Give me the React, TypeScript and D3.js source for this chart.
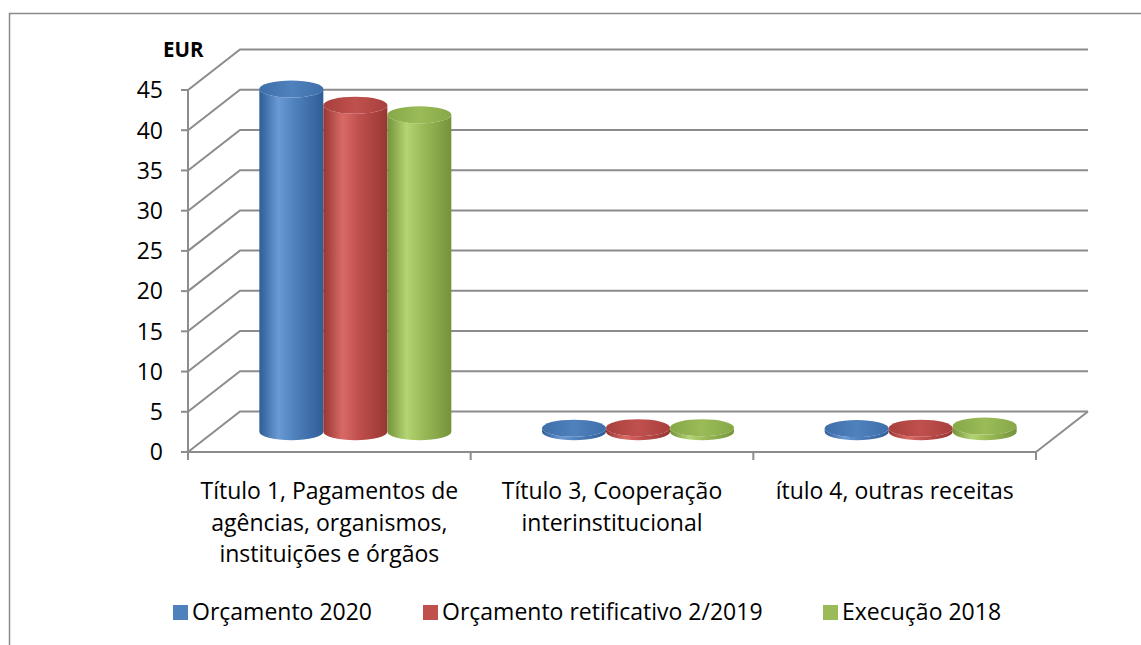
import { useEffect, useRef } from "react";
import * as d3 from "d3";

const categories = [
  ["Título 1, Pagamentos de", "agências, organismos,", "instituições e órgãos"],
  ["Título 3, Cooperação", "interinstitucional"],
  ["ítulo 4, outras receitas"],
];
const seriesNames = ["Orçamento 2020", "Orçamento retificativo 2/2019", "Execução 2018"];
const orcamento2020 = [42.6, 0.45, 0.4];
const retificativo2019 = [40.6, 0.5, 0.45];
const execucao2018 = [39.4, 0.5, 0.7];
const yTicks = [0, 5, 10, 15, 20, 25, 30, 35, 40, 45];

const colors = [
  { base: "#4f81bd", light: "#6a9ad6", dark: "#2f5d96", top: "#3e6faa" },
  { base: "#c0504d", light: "#d86a66", dark: "#983633", top: "#a8403d" },
  { base: "#9bbb59", light: "#b4d473", dark: "#74933a", top: "#86a846" },
];

const W = 1141;
const H = 645;
const FONT = "'Open Sans', sans-serif";
const FS = 23;

export default function App() {
  const svgRef = useRef<SVGSVGElement>(null);

  useEffect(() => {
    if (!svgRef.current) return;
    const svg = d3.select(svgRef.current);
    svg.selectAll("*").remove();

    const values = [orcamento2020, retificativo2019, execucao2018];
    const dx = 52;
    const dy = -40.5;
    const grid = "#8c8c8c";

    const y = d3.scaleLinear().domain([0, 45]).range([452, 90]);
    const x = d3
      .scaleBand<number>()
      .domain(categories.map((_, i) => i))
      .range([188, 1036]);

    // gradients
    const defs = svg.append("defs");
    colors.forEach((c, i) => {
      const g = defs
        .append("linearGradient")
        .attr("id", `body${i}`)
        .attr("x1", "0%")
        .attr("x2", "100%");
      g.append("stop").attr("offset", "0%").attr("stop-color", c.dark);
      g.append("stop").attr("offset", "30%").attr("stop-color", c.light);
      g.append("stop").attr("offset", "55%").attr("stop-color", c.base);
      g.append("stop").attr("offset", "100%").attr("stop-color", c.dark);
      const t = defs
        .append("linearGradient")
        .attr("id", `top${i}`)
        .attr("x1", "0%")
        .attr("x2", "100%");
      t.append("stop").attr("offset", "0%").attr("stop-color", c.top);
      t.append("stop").attr("offset", "50%").attr("stop-color", c.base);
      t.append("stop").attr("offset", "100%").attr("stop-color", c.top);
    });

    // outer border
    svg.append("path")
      .attr("d", `M9.5,${H} L9.5,13.5 L${W},13.5`)
      .attr("fill", "none")
      .attr("stroke", "#8a8a8a")
      .attr("stroke-width", 1.5);

    const x0 = 188;
    const x1 = 1036;

    // back wall gridlines + side wall diagonals
    yTicks.forEach((t) => {
      const yy = y(t);
      svg.append("path")
        .attr("d", `M${x0},${yy} L${x0 + dx},${yy + dy} L${x1 + dx},${yy + dy}`)
        .attr("fill", "none")
        .attr("stroke", grid)
        .attr("stroke-width", 2);
    });

    // floor right edge
    svg.append("line")
      .attr("x1", x1 + dx).attr("y1", y(0) + dy)
      .attr("x2", x1).attr("y2", y(0))
      .attr("stroke", grid).attr("stroke-width", 2);

    // axes
    svg.append("line")
      .attr("x1", x0).attr("y1", y(0))
      .attr("x2", x1).attr("y2", y(0))
      .attr("stroke", grid).attr("stroke-width", 2);
    svg.append("line")
      .attr("x1", x0).attr("y1", y(0))
      .attr("x2", x0).attr("y2", y(45))
      .attr("stroke", grid).attr("stroke-width", 2);

    yTicks.forEach((t) => {
      svg.append("line")
        .attr("x1", x0 - 7).attr("x2", x0)
        .attr("y1", y(t)).attr("y2", y(t))
        .attr("stroke", grid).attr("stroke-width", 2);
      svg.append("text")
        .attr("x", 163)
        .attr("y", y(t))
        .attr("dy", "0.36em")
        .attr("text-anchor", "end")
        .attr("font-family", FONT)
        .attr("font-size", FS)
        .attr("fill", "#000")
        .text(t);
    });

    const catEdges = [...categories.map((_, i) => x(i) as number), x1];
    catEdges.forEach((cx) => {
      svg.append("line")
        .attr("x1", cx).attr("x2", cx)
        .attr("y1", y(0)).attr("y2", y(0) + 8)
        .attr("stroke", grid).attr("stroke-width", 2);
    });

    svg.append("text")
      .attr("x", 163)
      .attr("y", 57)
      .attr("font-family", FONT)
      .attr("font-weight", "bold")
      .attr("font-size", 20.5)
      .text("EUR");

    // cylinders
    const rx = 32;
    const ry = 8.5;
    categories.forEach((_, ci) => {
      const center = (x(ci) as number) + x.bandwidth() / 2 + dx / 2;
      const sx = d3
        .scaleBand<number>()
        .domain([0, 1, 2])
        .range([center - 96, center + 96]);
      values.forEach((vals, si) => {
        const cx = (sx(si) as number) + sx.bandwidth() / 2;
        const b = y(0) + dy / 2;
        const t = y(vals[ci]) + dy / 2;
        const g = svg.append("g");
        g.append("path")
          .attr(
            "d",
            `M${cx - rx},${t} L${cx - rx},${b} A${rx},${ry} 0 0 0 ${cx + rx},${b} L${cx + rx},${t} A${rx},${ry} 0 0 1 ${cx - rx},${t} Z`
          )
          .attr("fill", `url(#body${si})`);
        g.append("ellipse")
          .attr("cx", cx)
          .attr("cy", t)
          .attr("rx", rx)
          .attr("ry", ry)
          .attr("fill", `url(#top${si})`);
      });
    });

    // category labels
    categories.forEach((lines, ci) => {
      const cx = (x(ci) as number) + x.bandwidth() / 2;
      lines.forEach((ln, li) => {
        svg.append("text")
          .attr("x", cx)
          .attr("y", 499 + li * 31.5)
          .attr("text-anchor", "middle")
          .attr("font-family", FONT)
          .attr("font-size", FS)
          .text(ln);
      });
    });

    // legend
    const legendX = [173, 423, 823];
    seriesNames.forEach((name, i) => {
      svg.append("rect")
        .attr("x", legendX[i])
        .attr("y", 605)
        .attr("width", 15)
        .attr("height", 15)
        .attr("fill", colors[i].base);
      svg.append("text")
        .attr("x", legendX[i] + 19)
        .attr("y", 620)
        .attr("font-family", FONT)
        .attr("font-size", FS)
        .text(name);
    });
  }, []);

  return (
    <div style={{ position: "absolute", left: 0, top: 0 }}>
      <svg ref={svgRef} width={W} height={H} style={{ display: "block", background: "#fff" }}></svg>
    </div>
  );
}
